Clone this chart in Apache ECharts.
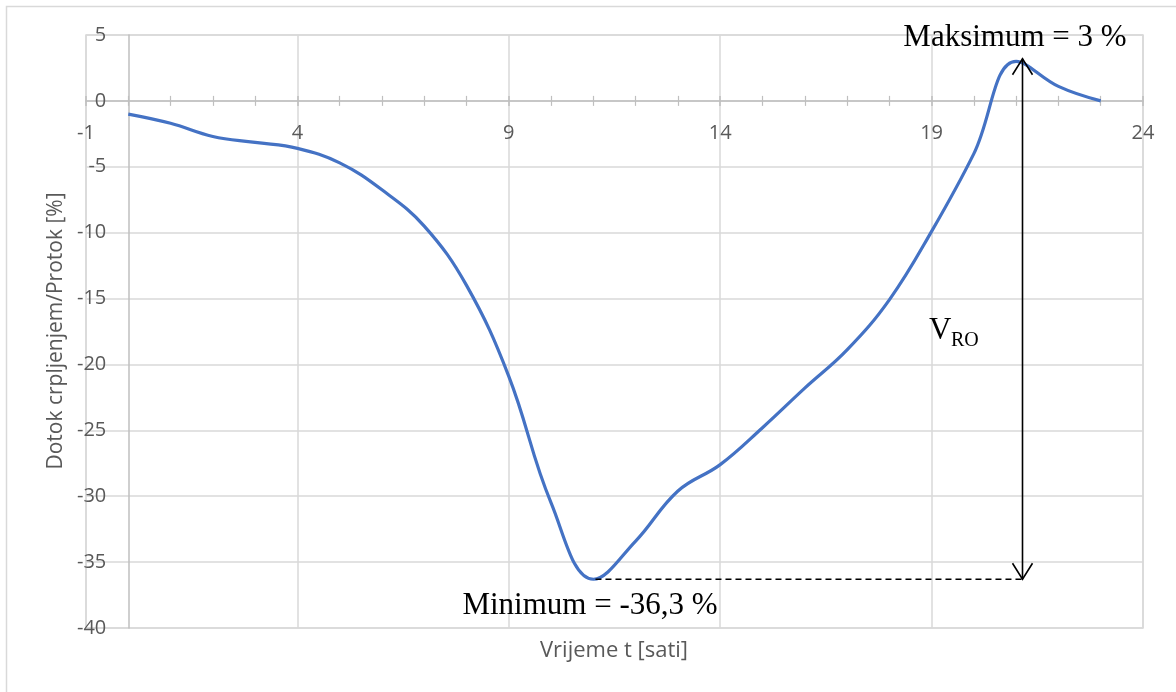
<!DOCTYPE html>
<html>
<head>
<meta charset="utf-8">
<script src="https://cdn.jsdelivr.net/npm/echarts@6/dist/echarts.min.js"></script>
<style>
html,body{margin:0;padding:0;background:#fff;}
#chart{width:1176px;height:692px;}
</style>
</head>
<body>
<div id="chart"></div>
<script>
// Data
const hours = [0,1,2,3,4,5,6,7,8,9,10,11,12,13,14,15,16,17,18,19,20,21,22,23];
const values = [-1.0,-1.7,-2.7,-3.15,-3.6,-4.7,-6.75,-9.5,-14.0,-20.9,-30.5,-36.3,-33.4,-29.6,-27.6,-24.8,-21.8,-18.9,-15.1,-9.9,-4.0,3.0,1.1,0.0];
const xTicks = [-1,4,9,14,19,24];
const yTicks = [-40,-35,-30,-25,-20,-15,-10,-5,0,5];
const maxPoint = [21.15, 3.2];   // arrow top (maximum)
const minPoint = [11.05, -36.3]; // minimum
const maxLabel = 'Maksimum = 3 %';
const minLabel = 'Minimum = -36,3 %';
const xTitle = 'Vrijeme t [sati]';
const yTitle = 'Dotok crpljenjem/Protok [%]';

const seriesData = hours.map((h, i) => [h, values[i]]);

const chart = echarts.init(document.getElementById('chart'), null, {renderer:'canvas'});
const sans = '"Open Sans", "Noto Sans", sans-serif';
const serif = '"Liberation Serif", "DejaVu Serif", serif';
const axisGray = '#BFBFBF';
const gridGray = '#D9D9D9';
const textGray = '#595959';

function buildOption(xOffset, yOffset) {
  return {
    animation: false,
    backgroundColor: '#fff',
    grid: {left: 86, right: 33, top: 35, bottom: 64, containLabel: false, outerBoundsMode: 'none',
           show: true, borderColor: gridGray, borderWidth: 1.5, backgroundColor: 'transparent'},
    xAxis: [{
      type: 'value', min: xTicks[0], max: xTicks[xTicks.length-1], interval: 5,
      position: 'bottom', offset: xOffset,
      axisLine: {show: true, onZero: false, lineStyle: {color: axisGray, width: 1.5}},
      axisTick: {show: true, length: 5, lineStyle: {color: axisGray, width: 1.5}},
      minorTick: {show: true, splitNumber: 5, length: 5, lineStyle: {color: axisGray, width: 1.2}},
      axisLabel: {margin: 22, color: textGray, fontSize: 20, fontFamily: sans},
      splitLine: {show: true, showMinLine: true, showMaxLine: true, lineStyle: {color: gridGray, width: 1.5}}
    }, {
      type: 'value', min: xTicks[0], max: xTicks[xTicks.length-1], interval: 5,
      position: 'top',
      axisLine: {show: false, onZero: true, onZeroAxisIndex: 0},
      axisTick: {show: true, length: 5, lineStyle: {color: axisGray, width: 1.5}},
      minorTick: {show: true, splitNumber: 5, length: 5, lineStyle: {color: axisGray, width: 1.2}},
      axisLabel: {show: false},
      splitLine: {show: false}
    }],
    yAxis: {
      type: 'value', min: yTicks[0], max: yTicks[yTicks.length-1], interval: 5,
      position: 'left', offset: yOffset,
      axisLine: {show: true, onZero: false, lineStyle: {color: axisGray, width: 1.5}},
      axisTick: {show: false},
      axisLabel: {margin: 22, color: textGray, fontSize: 20, fontFamily: sans},
      splitLine: {show: true, showMinLine: true, showMaxLine: true, lineStyle: {color: gridGray, width: 1.5}}
    },
    series: [{
      type: 'line',
      xAxisIndex: 0,
      data: seriesData,
      smooth: 0.4,
      showSymbol: false,
      lineStyle: {color: '#4472C4', width: 3.2},
      itemStyle: {color: '#4472C4'}
    }]
  };
}

// first pass: layout, then move the axes onto the zero lines using the scales
chart.setOption(buildOption(0, 0));
const y0px = chart.convertToPixel({yAxisIndex: 0}, 0);
const yMinPx = chart.convertToPixel({yAxisIndex: 0}, yTicks[0]);
const x0px = chart.convertToPixel({xAxisIndex: 0}, 0);
const xMinPx = chart.convertToPixel({xAxisIndex: 0}, xTicks[0]);
chart.setOption(buildOption(y0px - yMinPx, xMinPx - x0px));

// Annotations positioned through the chart's own scales
const pTop = chart.convertToPixel({gridIndex: 0}, maxPoint);
const pBot = chart.convertToPixel({gridIndex: 0}, [maxPoint[0], minPoint[1]]);
const pMin = chart.convertToPixel({gridIndex: 0}, minPoint);
const ax = pTop[0];
const headW = 10, headH = 16;
const blk = {stroke: '#000', lineWidth: 1.6, fill: null};

chart.setOption({
  graphic: [
    {type: 'rect', shape: {x: 6.5, y: 6.5, width: 1250, height: 750}, style: {stroke: gridGray, lineWidth: 1.5, fill: null}, silent: true, z: -10},
    {type: 'line', shape: {x1: ax, y1: pTop[1], x2: ax, y2: pBot[1]}, style: blk, z: 100},
    {type: 'polyline', shape: {points: [[ax - headW, pTop[1] + headH], [ax, pTop[1]], [ax + headW, pTop[1] + headH]]}, style: blk, z: 100},
    {type: 'polyline', shape: {points: [[ax - headW, pBot[1] - headH], [ax, pBot[1]], [ax + headW, pBot[1] - headH]]}, style: blk, z: 100},
    {type: 'line', shape: {x1: pMin[0], y1: pMin[1], x2: ax, y2: pBot[1]}, style: {stroke: '#000', lineWidth: 1.6, lineDash: [6, 4]}, z: 100},
    {type: 'text', x: 1015, y: 38, style: {text: maxLabel, font: '31px ' + serif, fill: '#000', align: 'center', verticalAlign: 'middle'}, z: 100},
    {type: 'text', x: 590, y: 606, style: {text: minLabel, font: '31px ' + serif, fill: '#000', align: 'center', verticalAlign: 'middle'}, z: 100},
    {type: 'text', x: 929, y: 331, style: {text: 'V', font: '31px ' + serif, fill: '#000', align: 'left', verticalAlign: 'middle'}, z: 100},
    {type: 'text', x: 951, y: 341, style: {text: 'RO', font: '20px ' + serif, fill: '#000', align: 'left', verticalAlign: 'middle'}, z: 100},
    {type: 'text', x: 614, y: 651, style: {text: xTitle, font: '22px ' + sans, fill: textGray, align: 'center', verticalAlign: 'middle'}, z: 100},
    {type: 'text', x: 56, y: 331, rotation: Math.PI / 2, style: {text: yTitle, font: '21px ' + sans, fill: textGray, align: 'center', verticalAlign: 'middle'}, z: 100}
  ]
});
</script>
</body>
</html>
